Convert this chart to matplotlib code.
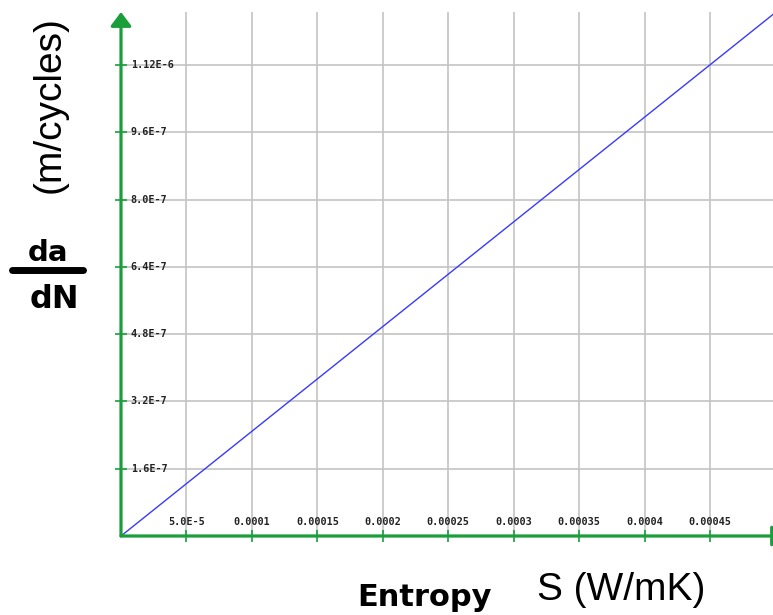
import numpy as np
import matplotlib.pyplot as plt
from matplotlib.patches import FancyArrowPatch

# crack growth rate vs entropy
entropy = [0.0, 0.0005]
dadn = [0.0, 1.245e-6]

xticks = [5e-5, 1e-4, 1.5e-4, 2e-4, 2.5e-4, 3e-4, 3.5e-4, 4e-4, 4.5e-4]
xlabels = ['5.0E-5', '0.0001', '0.00015', '0.0002', '0.00025',
           '0.0003', '0.00035', '0.0004', '0.00045']
yticks = [1.6e-7, 3.2e-7, 4.8e-7, 6.4e-7, 8.0e-7, 9.6e-7, 1.12e-6]
ylabels = ['1.6E-7', '3.2E-7', '4.8E-7', '6.4E-7', '8.0E-7', '9.6E-7', '1.12E-6']

green = '#1a9e3a'
W, H = 773, 615

fig = plt.figure(figsize=(W / 100, H / 100), dpi=100)
ax = fig.add_axes([121 / W, (H - 536) / H, (773 - 121) / W, (536 - 12) / H])
ax.set_xlim(0, 4.98e-4)
ax.set_ylim(0, 1.2458e-6)

for s in ax.spines.values():
    s.set_visible(False)
ax.set_xticks(xticks)
ax.set_yticks(yticks)
ax.set_xticklabels([])
ax.set_yticklabels([])
ax.tick_params(direction='inout', length=8, width=1.2, color=green)
ax.grid(True, color='#c4c4c4', linewidth=1.2)
ax.set_axisbelow(True)

ax.plot(entropy, dadn, color='#3a3aff', linewidth=1.0, zorder=3)

# tick labels sit inside the plot area
mono = dict(family='DejaVu Sans Mono', fontsize=7.3, fontweight='bold', color='#222222')
for x, lab in zip(xticks, xlabels):
    ax.annotate(lab, (x, 0), xytext=(0, 10), textcoords='offset points',
                ha='center', va='center', **mono)
for y, lab in zip(yticks, ylabels):
    ax.annotate(lab, (0, y), xytext=(7, 0), textcoords='offset points',
                ha='left', va='center', **mono)

# green axes with arrow heads
for end in [(0, 1), (1.02, 0)]:
    arr = FancyArrowPatch((0, 0), end, transform=ax.transAxes,
                          arrowstyle='-|>,head_length=0.6,head_width=0.45',
                          mutation_scale=14, color=green, linewidth=2.3,
                          shrinkA=0, shrinkB=0, clip_on=False, zorder=5)
    ax.add_patch(arr)

# axis titles
fig.text(50 / W, 1 - 105 / H, '(m/cycles)', family='Liberation Sans', fontsize=28,
         rotation=90, ha='center', va='center')
fig.text(48 / W, 1 - 253 / H, 'da', family='DejaVu Sans', fontweight='heavy',
         fontsize=21, ha='center', va='center')
fig.add_artist(plt.Line2D([12 / W, 83 / W], [1 - 270 / H, 1 - 270 / H],
                          color='black', linewidth=5, solid_capstyle='round'))
fig.text(54 / W, 1 - 300 / H, 'dN', family='DejaVu Sans', fontweight='heavy',
         fontsize=23, ha='center', va='center')
fig.text(425 / W, 1 - 597 / H, 'Entropy', family='DejaVu Sans', fontweight='heavy',
         fontsize=22, ha='center', va='center')
fig.text(621 / W, 1 - 590 / H, 'S (W/mK)', family='Liberation Sans',
         fontsize=28, ha='center', va='center')

fig.savefig('out.png', dpi=100)
